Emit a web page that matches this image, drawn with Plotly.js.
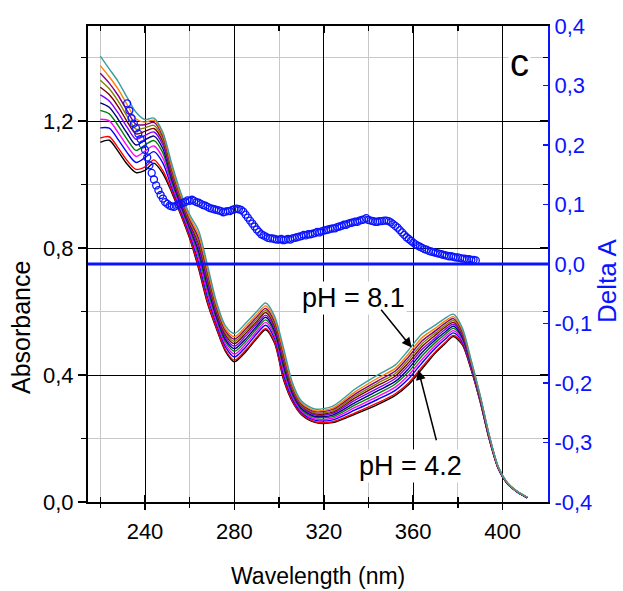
<!DOCTYPE html>
<html><head><meta charset="utf-8">
<script src="https://cdn.plot.ly/plotly-3.0.1.min.js"></script>
<style>html,body{margin:0;padding:0;background:#fff}#chart{width:623px;height:591px}</style>
</head><body><div id="chart"></div>
<script>
// Shared wavelength grid (nm) for the absorbance spectra
const wavelength = [220,224,228,232,236,240,244,248,252,256,260,264,268,272,276,280,285,290,294,298,302,306,310,316,324,334,344,352,358,364,370,374,378,382,386,390,394,398,402,406,411];

// Absorbance spectra, from pH 4.2 (lowest) to pH 8.1 (highest)
const spec01 = [1.133,1.140,1.105,1.065,1.038,1.045,1.068,1.035,0.975,0.905,0.830,0.735,0.625,0.545,0.475,0.442,0.473,0.515,0.543,0.500,0.385,0.315,0.275,0.251,0.250,0.277,0.307,0.336,0.370,0.420,0.470,0.497,0.521,0.495,0.415,0.315,0.198,0.106,0.059,0.034,0.013];
const spec02 = [1.147,1.151,1.116,1.076,1.048,1.056,1.078,1.044,0.980,0.909,0.834,0.741,0.631,0.549,0.479,0.447,0.478,0.519,0.547,0.504,0.390,0.318,0.277,0.253,0.253,0.281,0.312,0.341,0.376,0.426,0.474,0.501,0.525,0.498,0.417,0.316,0.199,0.106,0.059,0.034,0.013];
const spec03 = [1.179,1.178,1.142,1.101,1.070,1.085,1.104,1.068,0.990,0.917,0.843,0.755,0.645,0.560,0.489,0.457,0.488,0.530,0.557,0.515,0.402,0.325,0.282,0.258,0.259,0.290,0.323,0.352,0.389,0.439,0.485,0.511,0.533,0.504,0.420,0.318,0.200,0.107,0.059,0.034,0.013];
const spec04 = [1.206,1.201,1.164,1.122,1.089,1.106,1.122,1.084,0.999,0.924,0.850,0.767,0.657,0.568,0.497,0.466,0.497,0.538,0.566,0.523,0.412,0.331,0.287,0.262,0.264,0.298,0.332,0.362,0.400,0.450,0.494,0.519,0.540,0.509,0.423,0.320,0.202,0.108,0.060,0.035,0.014];
const spec05 = [1.234,1.223,1.186,1.143,1.108,1.125,1.139,1.100,1.008,0.931,0.858,0.779,0.669,0.577,0.505,0.475,0.506,0.547,0.574,0.532,0.422,0.337,0.291,0.267,0.269,0.306,0.341,0.372,0.411,0.461,0.503,0.527,0.547,0.515,0.426,0.322,0.203,0.108,0.060,0.035,0.014];
const spec06 = [1.258,1.244,1.206,1.162,1.125,1.141,1.153,1.113,1.016,0.937,0.865,0.790,0.680,0.584,0.512,0.483,0.514,0.554,0.582,0.539,0.431,0.343,0.295,0.270,0.274,0.313,0.350,0.380,0.421,0.471,0.511,0.534,0.554,0.519,0.429,0.324,0.204,0.109,0.060,0.035,0.014];
const spec07 = [1.283,1.264,1.226,1.181,1.143,1.155,1.166,1.125,1.025,0.944,0.871,0.801,0.691,0.592,0.519,0.491,0.523,0.562,0.589,0.547,0.440,0.348,0.299,0.274,0.279,0.321,0.358,0.389,0.431,0.481,0.518,0.542,0.560,0.524,0.432,0.326,0.206,0.109,0.061,0.035,0.014];
const spec08 = [1.307,1.284,1.246,1.199,1.160,1.168,1.177,1.135,1.033,0.950,0.878,0.812,0.702,0.599,0.526,0.499,0.531,0.569,0.597,0.554,0.449,0.353,0.303,0.278,0.283,0.328,0.367,0.397,0.440,0.490,0.526,0.549,0.566,0.529,0.434,0.328,0.207,0.110,0.061,0.035,0.014];
const spec09 = [1.329,1.302,1.263,1.216,1.175,1.179,1.187,1.144,1.040,0.955,0.884,0.821,0.711,0.606,0.533,0.506,0.538,0.576,0.604,0.561,0.457,0.358,0.306,0.281,0.287,0.334,0.374,0.405,0.449,0.499,0.533,0.555,0.572,0.533,0.437,0.329,0.208,0.110,0.061,0.036,0.015];
const spec10 = [1.351,1.320,1.281,1.233,1.190,1.189,1.196,1.152,1.047,0.961,0.890,0.831,0.721,0.613,0.539,0.513,0.545,0.583,0.610,0.568,0.465,0.363,0.309,0.285,0.292,0.340,0.381,0.413,0.458,0.508,0.540,0.562,0.578,0.537,0.439,0.331,0.209,0.111,0.061,0.036,0.015];
const spec11 = [1.375,1.340,1.301,1.252,1.207,1.197,1.203,1.159,1.055,0.967,0.897,0.842,0.732,0.621,0.546,0.521,0.553,0.591,0.618,0.576,0.474,0.368,0.313,0.288,0.296,0.347,0.390,0.421,0.468,0.518,0.548,0.569,0.584,0.542,0.442,0.333,0.210,0.111,0.062,0.036,0.015];
const spec12 = [1.405,1.365,1.325,1.275,1.228,1.205,1.210,1.165,1.065,0.975,0.905,0.855,0.745,0.630,0.555,0.531,0.563,0.600,0.627,0.585,0.485,0.375,0.318,0.293,0.302,0.356,0.400,0.432,0.480,0.530,0.558,0.578,0.592,0.548,0.445,0.335,0.212,0.112,0.062,0.036,0.015];

// Delta A (right axis)
const deltaWavelength = [232,233,234,235,236,237,238,239,240,241,242,243,244,245,246,247,248,249,250,251,252,253,254,255,256,257,258,259,260,261,262,263,264,265,266,267,268,269,270,271,272,273,274,275,276,277,278,279,280,281,282,283,284,285,286,287,288,289,290,291,292,293,294,295,296,297,298,299,300,301,302,303,304,305,306,307,308,309,310,311,312,313,314,315,316,317,318,319,320,321,322,323,324,325,326,327,328,329,330,331,332,333,334,335,336,337,338,339,340,341,342,343,344,345,346,347,348,349,350,351,352,353,354,355,356,357,358,359,360,361,362,363,364,365,366,367,368,369,370,371,372,373,374,375,376,377,378,379,380,381,382,383,384,385,386,387,388];
const deltaA = [0.270,0.258,0.245,0.236,0.228,0.219,0.210,0.201,0.192,0.179,0.166,0.153,0.142,0.132,0.124,0.116,0.110,0.104,0.101,0.098,0.097,0.096,0.098,0.100,0.101,0.103,0.104,0.107,0.106,0.108,0.106,0.104,0.103,0.101,0.099,0.098,0.096,0.094,0.093,0.092,0.091,0.090,0.089,0.087,0.088,0.089,0.089,0.091,0.092,0.093,0.092,0.091,0.088,0.083,0.078,0.073,0.068,0.063,0.058,0.054,0.050,0.048,0.046,0.044,0.043,0.043,0.042,0.041,0.041,0.042,0.040,0.041,0.042,0.041,0.043,0.044,0.045,0.046,0.047,0.049,0.048,0.050,0.050,0.051,0.052,0.054,0.053,0.055,0.056,0.057,0.058,0.059,0.060,0.060,0.062,0.063,0.064,0.066,0.066,0.068,0.069,0.070,0.071,0.071,0.073,0.074,0.075,0.077,0.074,0.073,0.072,0.071,0.071,0.072,0.072,0.073,0.073,0.072,0.070,0.067,0.064,0.061,0.057,0.053,0.049,0.045,0.042,0.039,0.036,0.033,0.031,0.029,0.027,0.025,0.024,0.022,0.021,0.020,0.019,0.018,0.017,0.016,0.015,0.014,0.013,0.013,0.012,0.011,0.011,0.010,0.009,0.009,0.008,0.008,0.007,0.007,0.006];

// Tick labels
const xTickVals = [240,280,320,360,400];
const xTickText = ['240','280','320','360','400'];
const yTickVals = [0,0.4,0.8,1.2];
const yTickText = ['0,0','0,4','0,8','1,2'];
const y2TickVals = [-0.4,-0.3,-0.2,-0.1,0,0.1,0.2,0.3,0.4];
const y2TickText = ['-0,4','-0,3','-0,2','-0,1','0,0','0,1','0,2','0,3','0,4'];

const spectra = [spec01,spec02,spec03,spec04,spec05,spec06,spec07,spec08,spec09,spec10,spec11,spec12];
const lineColors = ['#000000','#ff0000','#0000ff','#ff00ff','#008000','#000080','#8000ff','#800000','#808000','#800080','#ff8000','#3c9c9c'];

const FONT = "'Liberation Sans',Arial,sans-serif";
const BLUE = '#0a14ff';

const traces = spectra.map((s,i)=>({
  x: wavelength, y: s, type:'scatter', mode:'lines',
  line:{color:lineColors[i], width:1.4, shape:'spline', smoothing:0.8},
  hoverinfo:'skip', showlegend:false
}));
traces.push({
  x: deltaWavelength, y: deltaA, yaxis:'y2', type:'scatter', mode:'markers',
  marker:{symbol:'circle-open', size:7, color:BLUE, line:{width:1.3, color:BLUE}},
  showlegend:false, hoverinfo:'skip'
});
traces.push({x:[], y:[], xaxis:'x2', yaxis:'y3', type:'scatter', mode:'lines', showlegend:false, hoverinfo:'skip'});

const layout = {
  width:623, height:591,
  margin:{l:88, r:75, t:26, b:89, pad:0},
  paper_bgcolor:'#ffffff', plot_bgcolor:'#ffffff',
  showlegend:false,
  font:{family:FONT, size:22, color:'#000'},
  xaxis:{
    range:[214.5,420.3], tickmode:'array', tickvals:xTickVals, ticktext:xTickText,
    ticks:'outside', ticklen:6, tickwidth:1.5, tickcolor:'#000',
    showline:true, linecolor:'#000', linewidth:2, mirror:true,
    showgrid:true, gridcolor:'#000', gridwidth:1, zeroline:false,
    minor:{tickvals:[220,260,300,340,380], ticks:'outside', ticklen:4, tickwidth:1.5, tickcolor:'#000', showgrid:true, gridcolor:'#c8c8c8', gridwidth:1},
    tickfont:{family:FONT, size:22, color:'#000'}, ticklabelstandoff:3
  },
  xaxis2:{
    overlaying:'x', side:'top', anchor:'y', range:[214.5,420.3], tickmode:'array', tickvals:xTickVals,
    ticks:'inside', ticklen:7, tickwidth:1.5, tickcolor:'#000', mirror:'ticks', showline:false,
    showgrid:false, zeroline:false, showticklabels:false,
    minor:{tickvals:[220,260,300,340,380], ticks:'inside', ticklen:5, tickwidth:1.5, tickcolor:'#000', showgrid:false}
  },
  yaxis:{
    range:[0,1.5], tickmode:'array', tickvals:yTickVals, ticktext:yTickText,
    ticks:'outside', ticklen:8, tickwidth:1.5, tickcolor:'#000',
    showline:true, linecolor:'#000', linewidth:2,
    showgrid:true, gridcolor:'#000', gridwidth:1, zeroline:false,
    minor:{tickvals:[0.2,0.6,1.0,1.4], ticks:'outside', ticklen:5, tickwidth:1.5, tickcolor:'#000', showgrid:true, gridcolor:'#c8c8c8', gridwidth:1},
    tickfont:{family:FONT, size:22, color:'#000'}
  },
  yaxis3:{
    overlaying:'y', side:'right', anchor:'x', range:[0,1.5], tickmode:'array', tickvals:yTickVals,
    ticks:'inside', ticklen:8, tickwidth:1.5, tickcolor:'#000', showline:false,
    showgrid:false, zeroline:false, showticklabels:false,
    minor:{tickvals:[0.2,0.6,1.0,1.4], ticks:'inside', ticklen:5, tickwidth:1.5, tickcolor:'#000', showgrid:false}
  },
  yaxis2:{
    overlaying:'y', side:'right', anchor:'x', range:[-0.4,0.4], tickmode:'array', tickvals:y2TickVals, ticktext:y2TickText,
    ticks:'inside', ticklen:5, tickwidth:1.5, tickcolor:BLUE,
    showline:true, linecolor:BLUE, linewidth:2, showgrid:false, zeroline:false,
    tickfont:{family:FONT, size:22, color:BLUE}
  },
  shapes:[
    {type:'line', xref:'paper', x0:0, x1:1, yref:'y2', y0:0, y1:0, line:{color:BLUE, width:3}, layer:'above'}
  ],
  annotations:[
    {xref:'paper', yref:'paper', x:0.939, y:0.922, text:'c', showarrow:false, font:{family:FONT, size:38, color:'#000'}, bgcolor:'#ffffff', xanchor:'center', yanchor:'middle'},
    {xref:'x', yref:'y', x:333.1, y:0.6425, text:'pH = 8.1', showarrow:false, font:{family:FONT, size:27, color:'#000'}, bgcolor:'#ffffff', xanchor:'center', yanchor:'middle'},
    {xref:'x', yref:'y', x:358.6, y:0.113, text:'pH = 4.2', showarrow:false, font:{family:FONT, size:27, color:'#000'}, bgcolor:'#ffffff', xanchor:'center', yanchor:'middle'},
    {xref:'x', yref:'y', x:359.3, y:0.487, ax:-31.7, ay:-39.3, text:'', showarrow:true, arrowhead:2, arrowsize:1.3, arrowwidth:1.5, arrowcolor:'#000'},
    {xref:'x', yref:'y', x:362.3, y:0.416, ax:18.4, ay:71.7, text:'', showarrow:true, arrowhead:2, arrowsize:1.3, arrowwidth:1.5, arrowcolor:'#000'},
    {xref:'paper', yref:'paper', x:-0.1457, y:0.3676, text:'Absorbance', textangle:-90, showarrow:false, font:{family:FONT, size:25, color:'#000'}, xanchor:'center', yanchor:'middle'},
    {xref:'paper', yref:'paper', x:1.128, y:0.464, text:'Delta A', textangle:-90, showarrow:false, font:{family:FONT, size:26, color:BLUE}, xanchor:'center', yanchor:'middle'},
    {xref:'paper', yref:'paper', x:0.5, y:-0.1555, text:'Wavelength (nm)', showarrow:false, font:{family:FONT, size:23, color:'#000'}, xanchor:'center', yanchor:'middle'}
  ]
};

Plotly.newPlot('chart', traces, layout, {displayModeBar:false, staticPlot:true});
</script></body></html>
